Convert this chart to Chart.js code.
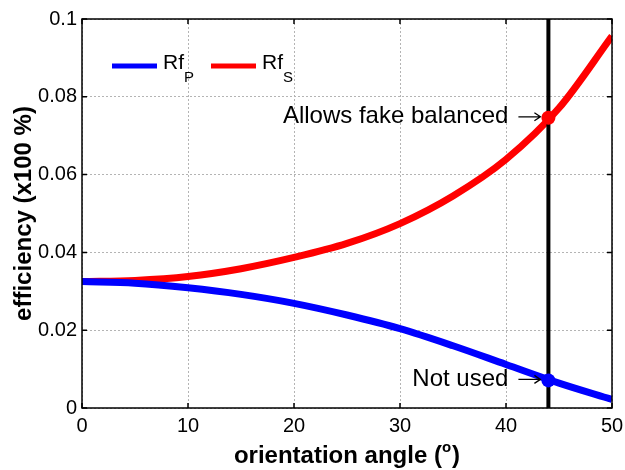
<!DOCTYPE html>
<html>
<head>
<meta charset="utf-8">
<script src="https://cdn.jsdelivr.net/npm/chart.js@4.4.0/dist/chart.umd.min.js"></script>
<style>
  html, body { margin: 0; padding: 0; background: #ffffff; }
  #wrap { width: 625px; height: 470px; }
</style>
</head>
<body>
<div id="wrap"><canvas id="effChart" width="625" height="470"></canvas></div>
<script>
// Data
var angles = [0, 5, 10, 15, 20, 25, 30, 35, 40, 45, 50];
var rfS = [0.0325, 0.0328, 0.0338, 0.0358, 0.0387, 0.0423, 0.0474, 0.0545, 0.0639, 0.0771, 0.0956];
var rfP = [0.0325, 0.0321, 0.0309, 0.0292, 0.0269, 0.0239, 0.0204, 0.0160, 0.0112, 0.0064, 0.0022];

var markAngle = 44;
var markS = 0.0746;
var markP = 0.0071;

var xTicks = [0, 10, 20, 30, 40, 50];
var yTickLabels = ['0', '0.02', '0.04', '0.06', '0.08', '0.1'];

var FONT = '"Liberation Sans", Arial, Helvetica, sans-serif';

// Frame, inward ticks, legend, annotation texts, x title
var overlay = {
    id: 'overlay',
    afterDraw: function (chart) {
        var ctx = chart.ctx;
        var a = chart.chartArea;
        var xs = chart.scales.x;
        var ys = chart.scales.y;
        ctx.save();

        // box
        ctx.strokeStyle = '#000';
        ctx.lineWidth = 1.5;
        ctx.strokeRect(a.left, a.top, a.right - a.left, a.bottom - a.top);

        // inward ticks (matlab style)
        ctx.beginPath();
        xTicks.forEach(function (t) {
            var px = xs.getPixelForValue(t);
            ctx.moveTo(px, a.bottom); ctx.lineTo(px, a.bottom - 5);
            ctx.moveTo(px, a.top); ctx.lineTo(px, a.top + 5);
        });
        ys.ticks.forEach(function (t) {
            var py = ys.getPixelForValue(t.value);
            ctx.moveTo(a.left, py); ctx.lineTo(a.left + 5, py);
            ctx.moveTo(a.right, py); ctx.lineTo(a.right - 5, py);
        });
        ctx.stroke();

        // legend
        var ly = 66;
        function legendItem(x0, color, sub) {
            ctx.strokeStyle = color;
            ctx.lineWidth = 5;
            ctx.beginPath();
            ctx.moveTo(x0, ly); ctx.lineTo(x0 + 45, ly);
            ctx.stroke();
            ctx.fillStyle = '#000';
            ctx.textBaseline = 'alphabetic';
            ctx.textAlign = 'left';
            ctx.font = '21px ' + FONT;
            ctx.fillText('Rf', x0 + 51, ly + 3);
            var w = ctx.measureText('Rf').width;
            ctx.font = '15px ' + FONT;
            ctx.fillText(sub, x0 + 51 + w, ly + 16);
        }
        legendItem(112, '#0000ff', 'P');
        legendItem(211, '#ff0000', 'S');

        // annotations: text plus a thin arrow
        function note(txt, yv) {
            var mx = xs.getPixelForValue(markAngle);
            var py = ys.getPixelForValue(yv) - 1;
            var x1 = mx - 30, x2 = mx - 8;
            ctx.strokeStyle = '#000';
            ctx.lineWidth = 1.3;
            ctx.beginPath();
            ctx.moveTo(x1, py); ctx.lineTo(x2, py);
            ctx.moveTo(x2 - 6, py - 4); ctx.lineTo(x2, py); ctx.lineTo(x2 - 6, py + 4);
            ctx.stroke();
            ctx.fillStyle = '#000';
            ctx.textAlign = 'right';
            ctx.textBaseline = 'middle';
            ctx.font = '24px ' + FONT;
            ctx.fillText(txt, mx - 40, py);
        }
        note('Allows fake balanced', markS);
        note('Not used', markP);

        // x title with superscript o
        ctx.textAlign = 'left';
        ctx.textBaseline = 'alphabetic';
        var p1 = 'orientation angle (';
        var p2 = ')';
        ctx.font = 'bold 24px ' + FONT;
        var w1 = ctx.measureText(p1).width;
        var w2 = ctx.measureText(p2).width;
        ctx.font = 'bold 15px ' + FONT;
        var ws = ctx.measureText('o').width;
        var total = w1 + ws + 1 + w2;
        var cx = (a.left + a.right) / 2;
        var sx = cx - total / 2;
        var by = 463;
        ctx.font = 'bold 24px ' + FONT;
        ctx.fillText(p1, sx, by);
        ctx.fillText(p2, sx + w1 + ws + 1, by);
        ctx.font = 'bold 15px ' + FONT;
        ctx.fillText('o', sx + w1, by - 11);

        ctx.restore();
    }
};

new Chart(document.getElementById('effChart'), {
    type: 'line',
    data: {
        datasets: [
            {
                label: 'Rf_S point',
                data: [{ x: markAngle, y: markS }],
                showLine: false,
                pointRadius: 7,
                pointBackgroundColor: '#ff0000',
                pointBorderWidth: 0,
                order: 0
            },
            {
                label: 'Rf_P point',
                data: [{ x: markAngle, y: markP }],
                showLine: false,
                pointRadius: 7,
                pointBackgroundColor: '#0000ff',
                pointBorderWidth: 0,
                order: 0
            },
            {
                label: 'marker line',
                data: [{ x: markAngle, y: 0 }, { x: markAngle, y: 0.1 }],
                borderColor: '#000000',
                borderWidth: 4,
                pointRadius: 0,
                order: 1
            },
            {
                label: 'Rf_P',
                data: angles.map((a, i) => ({ x: a, y: rfP[i] })),
                borderColor: '#0000ff',
                borderWidth: 7,
                pointRadius: 0,
                cubicInterpolationMode: 'monotone',
                order: 2
            },
            {
                label: 'Rf_S',
                data: angles.map((a, i) => ({ x: a, y: rfS[i] })),
                borderColor: '#ff0000',
                borderWidth: 7,
                pointRadius: 0,
                cubicInterpolationMode: 'monotone',
                order: 2
            }
        ]
    },
    options: {
        responsive: false,
        animation: false,
        layout: { padding: { top: 19, right: 13, left: 0, bottom: 0 } },
        plugins: {
            legend: { display: false },
            tooltip: { enabled: false }
        },
        scales: {
            x: {
                type: 'linear',
                min: 0,
                max: 50,
                afterBuildTicks: function (scale) {
                    scale.ticks = xTicks.map(v => ({ value: v }));
                },
                afterFit: function (scale) {
                    scale.height = 62;
                    scale.paddingRight = 0;
                    scale.paddingLeft = 0;
                },
                grid: { color: '#b4b4b4', drawTicks: false, lineWidth: 1 },
                border: { display: false, dash: [2, 2] },
                ticks: {
                    color: '#000',
                    padding: 6,
                    maxRotation: 0,
                    font: { family: FONT, size: 20 }
                }
            },
            y: {
                min: 0,
                max: 0.1,
                afterBuildTicks: function (scale) {
                    scale.ticks = yTickLabels.map((s, i) => ({ value: i * 0.02 }));
                },
                afterFit: function (scale) { scale.width = 82; },
                grid: { color: '#b4b4b4', drawTicks: false, lineWidth: 1 },
                border: { display: false, dash: [2, 2] },
                ticks: {
                    color: '#000',
                    padding: 5,
                    font: { family: FONT, size: 20 },
                    callback: function (value, index) { return yTickLabels[index]; }
                },
                title: {
                    display: true,
                    text: 'efficiency (x100 %)',
                    color: '#000',
                    padding: { top: 10, bottom: 0 },
                    font: { family: FONT, size: 24, weight: 'bold' }
                }
            }
        }
    },
    plugins: [overlay]
});
</script>
</body>
</html>
